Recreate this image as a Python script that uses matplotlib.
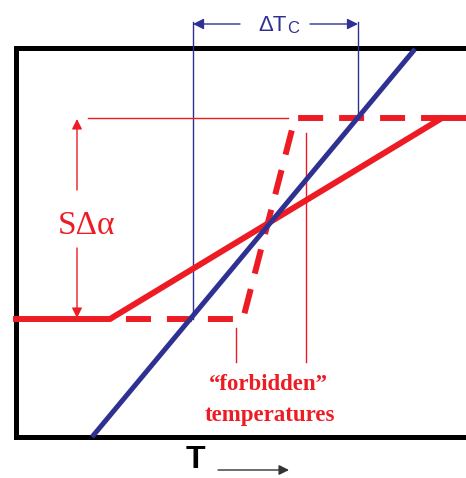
#!/usr/bin/env python3
import numpy as np
import matplotlib
matplotlib.use('Agg')
import matplotlib.pyplot as plt

plt.rcParams['lines.scale_dashes'] = False

# schematic coordinates (T to the right, y measured downward from top of sheet)
box_x = [16, 470, 470, 16, 16]
box_y = [48, 48, 437, 437, 48]

blue_T = [92, 415]
blue_y = [437, 49]

solid_T = [16, 110, 442, 470]
solid_y = [319, 319, 118, 118]

dash_T = [110, 243, 295, 470]
dash_y = [319, 319, 118, 118]

# thin guide lines
dtc_T = [193, 358]
dtc_bottom = [319, 118]
dtc_top = 22
guide_red_T = [88, 288]
guide_red_y = 118
forb_T = [236, 306]
forb_top = [328, 133]
forb_bottom = 362

RED = '#ED1C24'
BLUE = '#2E3192'

fig = plt.figure(figsize=(4.66, 4.78), dpi=100)
ax = fig.add_axes([0, 0, 1, 1])
ax.set_xlim(0, 466)
ax.set_ylim(478, 0)
ax.axis('off')

# frame
ax.plot(box_x, box_y, c='black', lw=3.6, solid_joinstyle='miter')

# thin guides
for x, yb in zip(dtc_T, dtc_bottom):
    ax.plot([x, x], [dtc_top, yb], c=BLUE, lw=1.0)
ax.plot(guide_red_T, [guide_red_y, guide_red_y], c=RED, lw=1.0)
for x, yt in zip(forb_T, forb_top):
    ax.plot([x, x], [yt, forb_bottom], c=RED, lw=1.0)

# main curves
ax.plot(dash_T, dash_y, c=RED, lw=4.3, ls=(18, (18, 11.5)), dash_capstyle='butt')
ax.plot(solid_T, solid_y, c=RED, lw=4.3, solid_joinstyle='miter')
ax.plot(blue_T, blue_y, c=BLUE, lw=3.6, solid_capstyle='butt')

# Delta T_C arrows
ap_b = dict(arrowstyle='-|>', color=BLUE, lw=1.0, mutation_scale=16, shrinkA=0, shrinkB=0)
ax.annotate('', xy=(dtc_T[0], 24), xytext=(240, 24), arrowprops=ap_b)
ax.annotate('', xy=(dtc_T[1], 24), xytext=(310, 24), arrowprops=ap_b)
ax.text(287, 25, '\u0394T', color=BLUE, fontsize=16, family='Liberation Sans',
        ha='right', va='center')
ax.text(287, 28, 'C', color=BLUE, fontsize=12, family='Liberation Sans',
        ha='left', va='center')

# S Delta alpha arrows
ap_r = dict(arrowstyle='-|>', color=RED, lw=1.0, mutation_scale=15, shrinkA=0, shrinkB=0)
ax.annotate('', xy=(77, 119), xytext=(77, 190), arrowprops=ap_r)
ax.annotate('', xy=(77, 318), xytext=(77, 248), arrowprops=ap_r)
ax.text(87, 226, 'S\u0394\u03b1', color=RED, fontsize=24, family='Liberation Serif',
        ha='center', va='center')

# forbidden temperatures label
ax.text(268, 385, '\u201cforbidden\u201d', color=RED, fontsize=16.5, fontweight='bold',
        family='Liberation Serif', ha='center', va='center')
ax.text(270, 415, 'temperatures', color=RED, fontsize=16.5, fontweight='bold',
        family='Liberation Serif', ha='center', va='center')

# T axis label
ax.text(195, 460, 'T', color='black', fontsize=23, fontweight='bold',
        family='Liberation Sans', ha='center', va='center')
ax.annotate('', xy=(289, 470), xytext=(218, 470),
            arrowprops=dict(arrowstyle='-|>', color='#333333', lw=1.0,
                            mutation_scale=15, shrinkA=0, shrinkB=0))

fig.savefig('out.png', dpi=100)
plt.close()
